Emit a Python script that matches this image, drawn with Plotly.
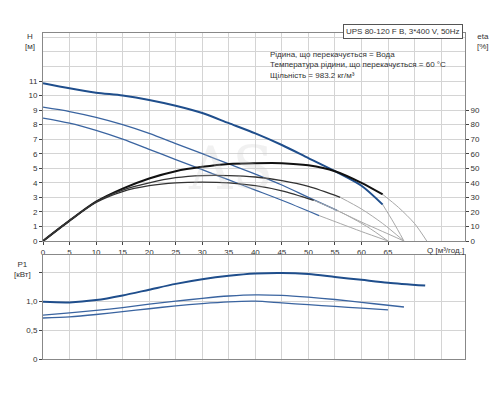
import plotly.graph_objects as go

q_h1 = [0, 5, 10, 15, 20, 25, 30, 35, 40, 45, 50, 55, 60, 64]
h1 = [10.85, 10.5, 10.2, 10.0, 9.7, 9.3, 8.8, 8.1, 7.4, 6.6, 5.7, 4.8, 3.8, 2.5]
q_h1x = [64, 66, 68]; h1x = [2.5, 1.3, 0]
q_h2 = [0, 5, 10, 15, 20, 25, 30, 35, 40, 45, 50, 55.4]
h2 = [9.2, 8.9, 8.5, 8.0, 7.4, 6.7, 6.0, 5.3, 4.6, 3.85, 3.0, 2.1]
q_h2x = [55.4, 60, 64, 68]; h2x = [2.1, 1.3, 0.65, 0]
q_h3 = [0, 5, 10, 15, 20, 25, 30, 35, 40, 45, 52]
h3 = [8.45, 8.1, 7.6, 7.0, 6.3, 5.6, 4.9, 4.2, 3.5, 2.8, 1.75]
q_h3x = [52, 56, 60, 65]; h3x = [1.75, 1.2, 0.65, 0]

q_e1 = [0, 5, 10, 15, 20, 25, 30, 35, 40, 45, 50, 55, 60, 64]
e1 = [0, 14, 27, 36, 43, 48, 51, 53, 53.5, 53.5, 52, 48, 40, 32]
q_e1x = [64, 67, 70, 72.3]; e1x = [32, 23, 12, 0]
q_e2 = [0, 5, 10, 15, 20, 25, 30, 35, 40, 45, 50, 56]
e2 = [0, 14, 27, 35, 40, 43.5, 45, 45, 44, 41.5, 37.5, 30]
q_e2x = [56, 60, 64, 68]; e2x = [30, 22, 12, 0]
q_e3 = [0, 5, 10, 15, 20, 25, 30, 35, 40, 45, 51]
e3 = [0, 14, 26.5, 34, 38, 40, 40.5, 40, 38, 34.5, 28]
q_e3x = [51, 56, 61, 65]; e3x = [28, 20, 10, 0]

q_p = [0, 5, 10, 15, 20, 25, 30, 35, 40, 45, 50, 55, 60, 65, 72]
p1 = [0.99, 0.98, 1.02, 1.1, 1.2, 1.3, 1.38, 1.44, 1.48, 1.49, 1.47, 1.42, 1.37, 1.32, 1.27]
q_p2 = [0, 5, 10, 15, 20, 25, 30, 35, 40, 45, 50, 55, 60, 65, 68]
p2 = [0.76, 0.8, 0.84, 0.89, 0.95, 1.0, 1.05, 1.09, 1.11, 1.1, 1.07, 1.03, 0.98, 0.93, 0.9]
q_p3 = [0, 5, 10, 15, 20, 25, 30, 35, 40, 45, 50, 55, 60, 65]
p3 = [0.71, 0.73, 0.77, 0.82, 0.87, 0.92, 0.96, 0.99, 1.0, 0.97, 0.94, 0.91, 0.88, 0.85]

x_ticks = list(range(0, 70, 5))
h_ticks = list(range(0, 12))
eta_ticks = list(range(0, 100, 10))
p_ticks = [0, 0.5, 1.0, 1.5]
p_labels = ["0", "0,5", "1,0", ""]

BLUE = "#1f4e8c"; BLUE2 = "#3a64a0"; DARK = "#111111"; GRAY = "#a8a8a8"
fig = go.Figure()
def add(x, y, color, w, xa="x", ya="y", shape="spline"):
    fig.add_trace(go.Scatter(x=x, y=y, mode="lines", line=dict(color=color, width=w, shape=shape, smoothing=0.8),
                             xaxis=xa, yaxis=ya, showlegend=False, hoverinfo="skip"))
add(q_h1, h1, BLUE, 2)
add(q_h1x, h1x, GRAY, 1)
add(q_h2, h2, BLUE2, 1.3)
add(q_h2x, h2x, GRAY, 1)
add(q_h3, h3, BLUE2, 1.3)
add(q_h3x, h3x, GRAY, 1)
add(q_e1, e1, DARK, 2, ya="y2")
add(q_e1x, e1x, GRAY, 1, ya="y2")
add(q_e2, e2, "#333333", 1.3, ya="y2")
add(q_e2x, e2x, GRAY, 1, ya="y2")
add(q_e3, e3, "#333333", 1.3, ya="y2")
add(q_e3x, e3x, GRAY, 1, ya="y2")
add(q_p, p1, BLUE, 2, "x2", "y3")
add(q_p2, p2, BLUE2, 1.3, "x2", "y3")
add(q_p3, p3, BLUE2, 1.3, "x2", "y3")

G = "#d4d4d4"
ax = dict(range=[0, 79.5], tickvals=x_ticks, showgrid=True, gridcolor=G, showline=True, automargin=False,
          linecolor="#888", mirror=True, zeroline=False, ticks="outside", ticklen=3,
          tickfont=dict(size=8, color="#333"), domain=[0.07, 0.914],
          minor=dict(tickvals=[70, 75], showgrid=True, gridcolor=G))
fig.update_layout(
    width=500, height=400, margin=dict(l=0, r=0, t=0, b=0, autoexpand=False), plot_bgcolor="white", paper_bgcolor="white",
    font=dict(family="Liberation Sans, Arial", size=8, color="#333"),
    xaxis=dict(ax, anchor="y"),
    xaxis2=dict(ax, anchor="y3", showticklabels=False, ticks=""),
    yaxis=dict(range=[0, 14.3], tickvals=h_ticks, domain=[0.4175, 0.9375], showgrid=True, gridcolor=G,
               showline=True, linecolor="#888", zeroline=False, ticks="outside", ticklen=3, automargin=False,
               tickfont=dict(size=8), minor=dict(tickvals=[12, 13, 14], showgrid=True, gridcolor=G)),
    yaxis2=dict(range=[0, 143], tickvals=eta_ticks, overlaying="y", side="right", anchor="x", automargin=False,
                showgrid=False, zeroline=False, ticks="outside", ticklen=3, tickfont=dict(size=8),
                showline=True, linecolor="#888"),
    yaxis3=dict(range=[0, 1.8], tickvals=p_ticks, ticktext=p_labels, domain=[0.1225, 0.3825], automargin=False,
                showgrid=True, gridcolor=G, showline=True, linecolor="#888", mirror=True,
                zeroline=False, ticks="outside", ticklen=3, tickfont=dict(size=8), anchor="x2"),
)
ann = [
    dict(x=0.044, y=0.945, text="H<br>[м]", xanchor="center", yanchor="top"),
    dict(x=0.95, y=0.945, text="eta<br>[%]", xanchor="center", yanchor="top"),
    dict(x=0.029, y=0.375, text="P1<br>[кВт]", xanchor="center", yanchor="top"),
    dict(x=0.874, y=0.41, text="Q [м³/год.]", xanchor="center", yanchor="top"),
    dict(x=0.519, y=0.9, text="Рідина, що перекачується = Вода<br>Температура рідини, що перекачується = 60 °C<br>Щільність = 983.2 кг/м³",
         xanchor="left", yanchor="top", align="left"),
    dict(x=0.909, y=0.923, text="UPS 80-120 F B, 3*400 V, 50Hz", xanchor="right", yanchor="bottom",
         bordercolor="#555", borderwidth=1, borderpad=2, bgcolor="white"),
    dict(x=0.444, y=0.6, text="AS", font=dict(size=60, color="rgba(200,200,200,0.25)", family="DejaVu Serif"),
         xanchor="center", yanchor="middle"),
]
for a in ann:
    a.setdefault("font", dict(size=8, color="#333"))
    fig.add_annotation(xref="paper", yref="paper", showarrow=False, **a)
fig.write_html("out.html")
